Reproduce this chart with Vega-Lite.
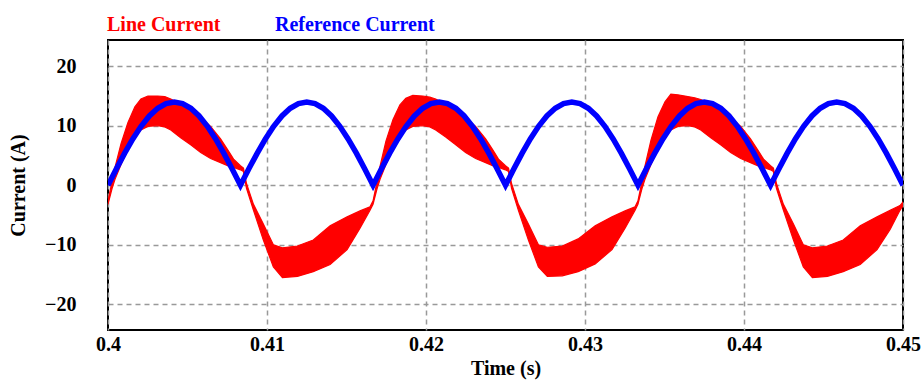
{
  "$schema": "https://vega.github.io/schema/vega-lite/v6.json",
  "width": 795,
  "height": 290,
  "autosize": "none",
  "padding": {"left": 108, "top": 40, "right": 18, "bottom": 51},
  "background": "white",
  "config": {
    "font": "Liberation Serif",
    "view": {"stroke": "black", "strokeWidth": 2},
    "axis": {
      "labelFont": "Liberation Serif",
      "labelFontWeight": "bold",
      "labelFontSize": 20,
      "labelColor": "black",
      "titleFont": "Liberation Serif",
      "titleFontWeight": "bold",
      "titleFontSize": 20,
      "titleColor": "black",
      "ticks": false,
      "domain": false,
      "grid": true,
      "gridColor": "#999999",
      "gridDash": [5, 4],
      "gridWidth": 1.5
    },
    "legend": {
      "labelFont": "Liberation Serif",
      "labelFontWeight": "bold",
      "labelFontSize": 20,
      "symbolSize": 0,
      "symbolOpacity": 0,
      "symbolStrokeWidth": 0,
      "labelOffset": 0,
      "padding": 0
    }
  },
  "datasets": {
    "line": [
      {"t": 0.40000, "lo": -3.2, "hi": -2.6},
      {"t": 0.40025, "lo": -0.6, "hi": 0.6},
      {"t": 0.40044, "lo": 1.0, "hi": 3.0},
      {"t": 0.40082, "lo": 3.5, "hi": 7.0},
      {"t": 0.40125, "lo": 6.0, "hi": 10.5},
      {"t": 0.40169, "lo": 8.0, "hi": 13.2},
      {"t": 0.40207, "lo": 9.3, "hi": 14.5},
      {"t": 0.40251, "lo": 9.9, "hi": 15.0},
      {"t": 0.40313, "lo": 10.0, "hi": 15.0},
      {"t": 0.40357, "lo": 9.8, "hi": 14.9},
      {"t": 0.40395, "lo": 9.3, "hi": 14.5},
      {"t": 0.40457, "lo": 8.0, "hi": 13.6},
      {"t": 0.40520, "lo": 6.8, "hi": 12.8},
      {"t": 0.40583, "lo": 5.5, "hi": 11.4},
      {"t": 0.40645, "lo": 4.5, "hi": 9.9},
      {"t": 0.40708, "lo": 3.8, "hi": 7.8},
      {"t": 0.40752, "lo": 3.3, "hi": 6.0},
      {"t": 0.40790, "lo": 3.0, "hi": 4.4},
      {"t": 0.40833, "lo": 2.6, "hi": 3.3},
      {"t": 0.40852, "lo": 2.3, "hi": 2.9},
      {"t": 0.40871, "lo": -0.5, "hi": 0.3},
      {"t": 0.40915, "lo": -4.2, "hi": -3.2},
      {"t": 0.40977, "lo": -9.2, "hi": -6.5},
      {"t": 0.41040, "lo": -13.7, "hi": -10.0},
      {"t": 0.41097, "lo": -15.5, "hi": -10.5},
      {"t": 0.41191, "lo": -15.3, "hi": -10.2},
      {"t": 0.41291, "lo": -14.5, "hi": -9.2},
      {"t": 0.41397, "lo": -13.3, "hi": -6.8},
      {"t": 0.41504, "lo": -10.8, "hi": -5.3},
      {"t": 0.41585, "lo": -7.2, "hi": -4.3},
      {"t": 0.41648, "lo": -4.2, "hi": -3.6},
      {"t": 0.41667, "lo": -3.2, "hi": -2.6},
      {"t": 0.41692, "lo": -0.6, "hi": 0.6},
      {"t": 0.41711, "lo": 1.0, "hi": 3.2},
      {"t": 0.41748, "lo": 3.5, "hi": 7.4},
      {"t": 0.41792, "lo": 6.0, "hi": 11.0},
      {"t": 0.41836, "lo": 8.0, "hi": 13.5},
      {"t": 0.41873, "lo": 9.3, "hi": 14.6},
      {"t": 0.41917, "lo": 9.9, "hi": 15.1},
      {"t": 0.41980, "lo": 10.0, "hi": 15.0},
      {"t": 0.42024, "lo": 9.8, "hi": 14.8},
      {"t": 0.42061, "lo": 9.3, "hi": 14.5},
      {"t": 0.42124, "lo": 8.1, "hi": 13.6},
      {"t": 0.42187, "lo": 6.8, "hi": 12.8},
      {"t": 0.42249, "lo": 5.5, "hi": 11.4},
      {"t": 0.42312, "lo": 4.5, "hi": 9.9},
      {"t": 0.42375, "lo": 3.8, "hi": 7.8},
      {"t": 0.42419, "lo": 3.3, "hi": 6.0},
      {"t": 0.42456, "lo": 3.0, "hi": 4.4},
      {"t": 0.42500, "lo": 2.6, "hi": 3.3},
      {"t": 0.42519, "lo": 2.3, "hi": 2.9},
      {"t": 0.42538, "lo": -0.5, "hi": 0.3},
      {"t": 0.42581, "lo": -4.2, "hi": -3.2},
      {"t": 0.42644, "lo": -9.2, "hi": -6.5},
      {"t": 0.42707, "lo": -13.7, "hi": -10.0},
      {"t": 0.42763, "lo": -15.3, "hi": -10.4},
      {"t": 0.42857, "lo": -15.2, "hi": -10.2},
      {"t": 0.42957, "lo": -14.5, "hi": -9.0},
      {"t": 0.43064, "lo": -13.2, "hi": -6.8},
      {"t": 0.43170, "lo": -10.8, "hi": -5.3},
      {"t": 0.43252, "lo": -7.2, "hi": -4.3},
      {"t": 0.43315, "lo": -4.2, "hi": -3.6},
      {"t": 0.43333, "lo": -3.2, "hi": -2.6},
      {"t": 0.43358, "lo": -0.6, "hi": 0.6},
      {"t": 0.43377, "lo": 1.0, "hi": 3.2},
      {"t": 0.43415, "lo": 3.5, "hi": 7.6},
      {"t": 0.43459, "lo": 6.0, "hi": 11.5},
      {"t": 0.43503, "lo": 8.0, "hi": 14.0},
      {"t": 0.43540, "lo": 9.3, "hi": 15.3},
      {"t": 0.43584, "lo": 9.9, "hi": 15.2},
      {"t": 0.43647, "lo": 10.0, "hi": 14.9},
      {"t": 0.43690, "lo": 9.8, "hi": 14.7},
      {"t": 0.43728, "lo": 9.3, "hi": 14.4},
      {"t": 0.43791, "lo": 8.0, "hi": 13.6},
      {"t": 0.43853, "lo": 6.8, "hi": 12.8},
      {"t": 0.43916, "lo": 5.5, "hi": 11.4},
      {"t": 0.43979, "lo": 4.5, "hi": 9.9},
      {"t": 0.44041, "lo": 3.8, "hi": 7.8},
      {"t": 0.44085, "lo": 3.3, "hi": 6.0},
      {"t": 0.44123, "lo": 3.0, "hi": 4.4},
      {"t": 0.44167, "lo": 2.6, "hi": 3.3},
      {"t": 0.44185, "lo": 2.3, "hi": 2.9},
      {"t": 0.44204, "lo": -0.5, "hi": 0.3},
      {"t": 0.44248, "lo": -4.2, "hi": -3.2},
      {"t": 0.44311, "lo": -9.2, "hi": -6.5},
      {"t": 0.44373, "lo": -13.7, "hi": -10.0},
      {"t": 0.44430, "lo": -15.5, "hi": -10.5},
      {"t": 0.44524, "lo": -15.3, "hi": -10.2},
      {"t": 0.44624, "lo": -14.5, "hi": -9.2},
      {"t": 0.44731, "lo": -13.3, "hi": -6.8},
      {"t": 0.44837, "lo": -10.8, "hi": -5.3},
      {"t": 0.44919, "lo": -7.4, "hi": -4.2},
      {"t": 0.44981, "lo": -4.2, "hi": -3.4},
      {"t": 0.45000, "lo": -3.4, "hi": -2.8}
    ],
    "ref": [
      {"t": 0.40000, "i": 0}, {"t": 0.40052, "i": 2.73}, {"t": 0.40104, "i": 5.36}, {"t": 0.40156, "i": 7.78},
      {"t": 0.40208, "i": 9.90}, {"t": 0.40260, "i": 11.64}, {"t": 0.40313, "i": 12.93}, {"t": 0.40365, "i": 13.73},
      {"t": 0.40417, "i": 14.0}, {"t": 0.40469, "i": 13.73}, {"t": 0.40521, "i": 12.93}, {"t": 0.40573, "i": 11.64},
      {"t": 0.40625, "i": 9.90}, {"t": 0.40677, "i": 7.78}, {"t": 0.40729, "i": 5.36}, {"t": 0.40781, "i": 2.73},
      {"t": 0.40833, "i": 0}, {"t": 0.40885, "i": 2.73}, {"t": 0.40938, "i": 5.36}, {"t": 0.40990, "i": 7.78},
      {"t": 0.41042, "i": 9.90}, {"t": 0.41094, "i": 11.64}, {"t": 0.41146, "i": 12.93}, {"t": 0.41198, "i": 13.73},
      {"t": 0.41250, "i": 14.0}, {"t": 0.41302, "i": 13.73}, {"t": 0.41354, "i": 12.93}, {"t": 0.41406, "i": 11.64},
      {"t": 0.41458, "i": 9.90}, {"t": 0.41510, "i": 7.78}, {"t": 0.41563, "i": 5.36}, {"t": 0.41615, "i": 2.73},
      {"t": 0.41667, "i": 0}, {"t": 0.41719, "i": 2.73}, {"t": 0.41771, "i": 5.36}, {"t": 0.41823, "i": 7.78},
      {"t": 0.41875, "i": 9.90}, {"t": 0.41927, "i": 11.64}, {"t": 0.41979, "i": 12.93}, {"t": 0.42031, "i": 13.73},
      {"t": 0.42083, "i": 14.0}, {"t": 0.42135, "i": 13.73}, {"t": 0.42188, "i": 12.93}, {"t": 0.42240, "i": 11.64},
      {"t": 0.42292, "i": 9.90}, {"t": 0.42344, "i": 7.78}, {"t": 0.42396, "i": 5.36}, {"t": 0.42448, "i": 2.73},
      {"t": 0.42500, "i": 0}, {"t": 0.42552, "i": 2.73}, {"t": 0.42604, "i": 5.36}, {"t": 0.42656, "i": 7.78},
      {"t": 0.42708, "i": 9.90}, {"t": 0.42760, "i": 11.64}, {"t": 0.42813, "i": 12.93}, {"t": 0.42865, "i": 13.73},
      {"t": 0.42917, "i": 14.0}, {"t": 0.42969, "i": 13.73}, {"t": 0.43021, "i": 12.93}, {"t": 0.43073, "i": 11.64},
      {"t": 0.43125, "i": 9.90}, {"t": 0.43177, "i": 7.78}, {"t": 0.43229, "i": 5.36}, {"t": 0.43281, "i": 2.73},
      {"t": 0.43333, "i": 0}, {"t": 0.43385, "i": 2.73}, {"t": 0.43438, "i": 5.36}, {"t": 0.43490, "i": 7.78},
      {"t": 0.43542, "i": 9.90}, {"t": 0.43594, "i": 11.64}, {"t": 0.43646, "i": 12.93}, {"t": 0.43698, "i": 13.73},
      {"t": 0.43750, "i": 14.0}, {"t": 0.43802, "i": 13.73}, {"t": 0.43854, "i": 12.93}, {"t": 0.43906, "i": 11.64},
      {"t": 0.43958, "i": 9.90}, {"t": 0.44010, "i": 7.78}, {"t": 0.44063, "i": 5.36}, {"t": 0.44115, "i": 2.73},
      {"t": 0.44167, "i": 0}, {"t": 0.44219, "i": 2.73}, {"t": 0.44271, "i": 5.36}, {"t": 0.44323, "i": 7.78},
      {"t": 0.44375, "i": 9.90}, {"t": 0.44427, "i": 11.64}, {"t": 0.44479, "i": 12.93}, {"t": 0.44531, "i": 13.73},
      {"t": 0.44583, "i": 14.0}, {"t": 0.44635, "i": 13.73}, {"t": 0.44688, "i": 12.93}, {"t": 0.44740, "i": 11.64},
      {"t": 0.44792, "i": 9.90}, {"t": 0.44844, "i": 7.78}, {"t": 0.44896, "i": 5.36}, {"t": 0.44948, "i": 2.73},
      {"t": 0.45000, "i": 0}
    ]
  },
  "layer": [
    {
      "data": {"name": "line"},
      "transform": [{"calculate": "'Line Current'", "as": "series"}],
      "mark": {"type": "area", "stroke": "#ff0000", "strokeWidth": 1.2, "fillOpacity": 1, "clip": true},
      "encoding": {
        "x": {
          "field": "t", "type": "quantitative",
          "scale": {"domain": [0.4, 0.45], "nice": false, "zero": false},
          "axis": {"title": "Time (s)", "values": [0.4, 0.41, 0.42, 0.43, 0.44, 0.45], "format": ".2~f", "labelPadding": 4, "titlePadding": 4, "labelFlush": false}
        },
        "y": {
          "field": "hi", "type": "quantitative",
          "scale": {"domain": [-24.3, 24.4], "nice": false, "zero": false},
          "axis": {"title": "Current (A)", "values": [-20, -10, 0, 10, 20], "labelPadding": 32, "titlePadding": 16}
        },
        "y2": {"field": "lo"},
        "fill": {
          "field": "series", "type": "nominal",
          "scale": {"domain": ["Line Current"], "range": ["#ff0000"]},
          "legend": {"title": null, "orient": "none", "legendX": -21, "legendY": -25, "labelColor": "#ff0000"}
        }
      }
    },
    {
      "data": {"name": "ref"},
      "transform": [{"calculate": "'Reference Current'", "as": "series"}],
      "mark": {"type": "line", "strokeWidth": 5.5, "clip": true},
      "encoding": {
        "x": {"field": "t", "type": "quantitative"},
        "y": {"field": "i", "type": "quantitative"},
        "stroke": {
          "field": "series", "type": "nominal",
          "scale": {"domain": ["Reference Current"], "range": ["#0000ff"]},
          "legend": {"title": null, "orient": "none", "legendX": 147, "legendY": -25, "labelColor": "#0000ff"}
        }
      }
    }
  ]
}
